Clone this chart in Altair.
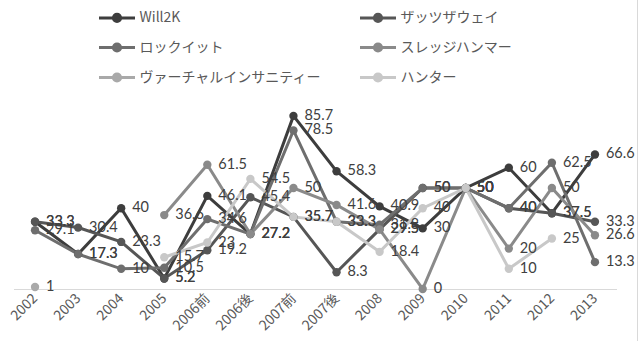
import altair as alt
import pandas as pd

# Categories along the x axis (first/second half of 2006 and 2007 are split)
categories = ["2002", "2003", "2004", "2005", "2006前", "2006後", "2007前",
              "2007後", "2008", "2009", "2010", "2011", "2012", "2013"]

series_names = ["Will2K", "ザッツザウェイ", "ロックイット",
                "スレッジハンマー", "ヴァーチャルインサニティー", "ハンター"]

will2k = [33.3, 17.3, 40, 5.2, 46.1, 27.2, 85.7, 58.3, 40.9, 30, 50, 60, 37.5, 66.6]
thats_the_way = [33.3, 30.4, 23.3, 5.2, 19.2, 45.4, 35.7, 8.3, 29.5, 50, 50, 40, 37.5, 33.3]
lock_it = [29.1, 17.3, 10, 10.5, 34.6, 27.2, 78.5, 33.3, 31.8, 50, 50, 40, 62.5, 13.3]
sledgehammer = [None, None, None, 36.6, 61.5, 27.2, 50, 41.6, 29.5, 0, 50, 20, 50, 26.6]
virtual_insanity = [1, None, None, None, None, None, None, None, None, None, None, None, None, None]
hunter = [None, None, None, 15.7, 23, 54.5, 35.7, 33.3, 18.4, 40, 50, 10, 25, None]

series_values = [will2k, thats_the_way, lock_it, sledgehammer, virtual_insanity, hunter]
series_colors = ["#3d3d3d", "#565656", "#6e6e6e", "#8a8a8a", "#a9a9a9", "#c8c8c8"]

rows = []
for s_idx, (name, vals) in enumerate(zip(series_names, series_values)):
    for c_idx, (cat, v) in enumerate(zip(categories, vals)):
        if v is None:
            continue
        rows.append({"cat": cat, "series": name, "value": v,
                     "label": f"{v:g}", "s": s_idx, "c": c_idx})
df = pd.DataFrame(rows)

# legend symbol: a short stroke with a filled dot (stroked rings) in the middle
ring = lambda r: f"M{r},0A{r},{r},0,1,1,{-r},0A{r},{r},0,1,1,{r},0"
legend_symbol = "M-2,0L2,0" + ring(0.4) + ring(0.22) + ring(0.06)

x_enc = alt.X("cat:N", sort=categories,
              scale=alt.Scale(type="point", domain=categories, padding=0.5),
              axis=alt.Axis(title=None, labelAngle=-45, labelAlign="right",
                            labelBaseline="middle", labelPadding=7, ticks=False,
                            grid=False, domainColor="#d9d9d9", domainWidth=1,
                            labelFont="Noto Sans CJK JP", labelFontSize=14,
                            labelColor="#595959"))
y_enc = alt.Y("value:Q", scale=alt.Scale(domain=[0, 100], nice=False, zero=True),
              axis=None)
color_scale = alt.Scale(domain=series_names, range=series_colors)

base = alt.Chart(df)

lines = base.mark_line(strokeWidth=3).encode(
    x=x_enc, y=y_enc,
    color=alt.Color("series:N", scale=color_scale, sort=series_names,
                    legend=alt.Legend(
                        title=None, orient="none", legendX=93, legendY=-80,
                        direction="horizontal", columns=2, columnPadding=32,
                        rowPadding=9, labelLimit=400,
                        symbolType=legend_symbol, symbolSize=324,
                        symbolStrokeWidth=3, labelOffset=12,
                        labelFont="Noto Sans CJK JP", labelFontSize=14,
                        labelColor="#595959", padding=0)),
    order=alt.Order("c:Q"),
    detail="series:N",
)

points = base.mark_point(filled=True, size=70, opacity=1).encode(
    x=x_enc, y=y_enc,
    color=alt.Color("series:N", scale=color_scale, legend=None),
    order=alt.Order("s:Q"),
)

labels = base.mark_text(align="left", baseline="middle", dx=11, font="Lato",
                        fontSize=14.5, color="#404040").encode(
    x=x_enc, y=y_enc, text="label:N",
)

border = alt.Chart(df).mark_rule(color="#d9d9d9", strokeWidth=1).encode(
    x=alt.value(624), y=alt.value(-87), y2=alt.value(254)
)

chart = alt.layer(lines, points, labels, border).properties(
    width=603, height=202,
    padding={"left": 13.5, "top": 87, "right": 26.5, "bottom": 54},
    autosize=alt.AutoSizeParams(type="none"),
    background="white",
).configure_view(stroke=None)

chart.save("out.html", embed_options={"renderer": "svg", "actions": False})
